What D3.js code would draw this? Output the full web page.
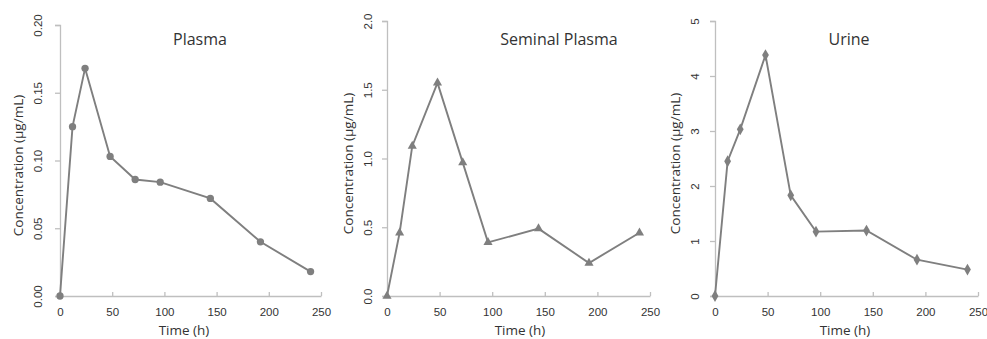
<!DOCTYPE html>
<html>
<head>
<meta charset="utf-8">
<script src="https://cdn.jsdelivr.net/npm/d3@7"></script>
<style>
  body { margin: 0; background: #fff; }
  svg { font-family: "Open Sans", sans-serif; }
</style>
</head>
<body>
<div class="chart"></div>
<script>
// sampling times (h), shared by all three panels
var times = [0, 12, 24, 48, 72, 96, 144, 192, 240];

var plasma = [0, 0.125, 0.168, 0.103, 0.086, 0.084, 0.072, 0.040, 0.018];
var seminal = [0, 0.46, 1.09, 1.55, 0.97, 0.39, 0.49, 0.24, 0.46];
var urine = [0, 2.45, 3.03, 4.38, 1.83, 1.17, 1.19, 0.66, 0.48];

var titles = ["Plasma", "Seminal Plasma", "Urine"];
var yMax = [0.20, 2.0, 5];
var yTicks = [
  [0, 0.05, 0.10, 0.15, 0.20],
  [0, 0.5, 1.0, 1.5, 2.0],
  [0, 1, 2, 3, 4, 5]
];
var yFormats = [".2f", ".1f", "d"];
var xTicks = [0, 50, 100, 150, 200, 250];

var svgWidth = 987;
var svgHeight = 339;

// plot areas of the three panels (pixels)
var panels = [
  { left: 60, right: 321, top: 25, bottom: 296, titleX: 200, xTitleX: 184, yLabX: 22, yTitleX: 42, symbol: d3.symbolCircle, size: 42 },
  { left: 387, right: 650, top: 21, bottom: 296, titleX: 559, xTitleX: 520, yLabX: 19, yTitleX: 39, symbol: d3.symbolTriangle, size: 36 },
  { left: 715, right: 978, top: 21, bottom: 296, titleX: 849, xTitleX: 845, yLabX: 20, yTitleX: 40, symbol: d3.symbolDiamond, size: 40 }
];

var series = [plasma, seminal, urine];

var lineColor = "#7f7f7f";
var axisColor = "#bfbfbf";
var textColor = "#333333";

var svg = d3.select(".chart")
  .append("svg")
  .attr("width", svgWidth)
  .attr("height", svgHeight);

panels.forEach(function(p, i) {
  var g = svg.append("g");

  var xScale = d3.scaleLinear()
    .domain([0, 250])
    .range([p.left, p.right]);

  var yScale = d3.scaleLinear()
    .domain([0, yMax[i]])
    .range([p.bottom, p.top]);

  // y axis
  var leftAxis = d3.axisLeft(yScale)
    .tickValues(yTicks[i])
    .tickSize(5)
    .tickFormat(d3.format(yFormats[i]));

  var yAxis = g.append("g")
    .attr("transform", `translate(${p.left}, 0)`)
    .call(leftAxis);
  yAxis.select(".domain").attr("stroke", axisColor).attr("stroke-width", 1.3);
  yAxis.selectAll(".tick line").attr("stroke", axisColor).attr("stroke-width", 1.3);
  yAxis.selectAll(".tick text")
    .attr("x", 0)
    .attr("y", 0)
    .attr("dy", "0.35em")
    .attr("text-anchor", "middle")
    .attr("transform", `translate(${-p.yLabX}, 0) rotate(-90)`)
    .attr("fill", textColor)
    .attr("font-size", "11.5px");

  // x axis, ticks pointing up into the plot
  var bottomAxis = d3.axisBottom(xScale)
    .tickValues(xTicks)
    .tickSizeInner(-4)
    .tickSizeOuter(0)
    .tickPadding(12);

  var xAxis = g.append("g")
    .attr("transform", `translate(0, ${p.bottom})`)
    .call(bottomAxis);
  xAxis.select(".domain").attr("stroke", axisColor).attr("stroke-width", 1.3);
  xAxis.selectAll(".tick line").attr("stroke", axisColor).attr("stroke-width", 1.3);
  xAxis.selectAll(".tick text")
    .attr("fill", textColor)
    .attr("font-size", "11.5px");

  // line
  var pts = times.map(function(t, j) { return { t: t, v: series[i][j] }; });

  var line = d3.line()
    .x(d => xScale(d.t))
    .y(d => yScale(d.v));

  g.append("path")
    .datum(pts)
    .attr("d", line)
    .attr("fill", "none")
    .attr("stroke", lineColor)
    .attr("stroke-width", 1.9);

  // markers
  g.selectAll(".marker")
    .data(pts)
    .enter()
    .append("path")
    .attr("class", "marker")
    .attr("d", d3.symbol().type(p.symbol).size(p.size))
    .attr("transform", d => `translate(${xScale(d.t)}, ${yScale(d.v)})`)
    .attr("fill", lineColor);

  // panel title
  g.append("text")
    .attr("x", p.titleX)
    .attr("y", 45)
    .attr("text-anchor", "middle")
    .attr("font-size", "16px")
    .attr("fill", textColor)
    .text(titles[i]);

  // x axis title
  g.append("text")
    .attr("x", p.xTitleX)
    .attr("y", 335)
    .attr("text-anchor", "middle")
    .attr("font-size", "13.5px")
    .attr("fill", textColor)
    .text("Time (h)");

  // y axis title
  g.append("text")
    .attr("transform", `translate(${p.left - p.yTitleX}, ${(p.top + p.bottom) / 2 + 5}) rotate(-90)`)
    .attr("dy", "0.35em")
    .attr("text-anchor", "middle")
    .attr("font-size", "13.5px")
    .attr("fill", textColor)
    .text("Concentration (µg/mL)");
});
</script>
</body>
</html>
